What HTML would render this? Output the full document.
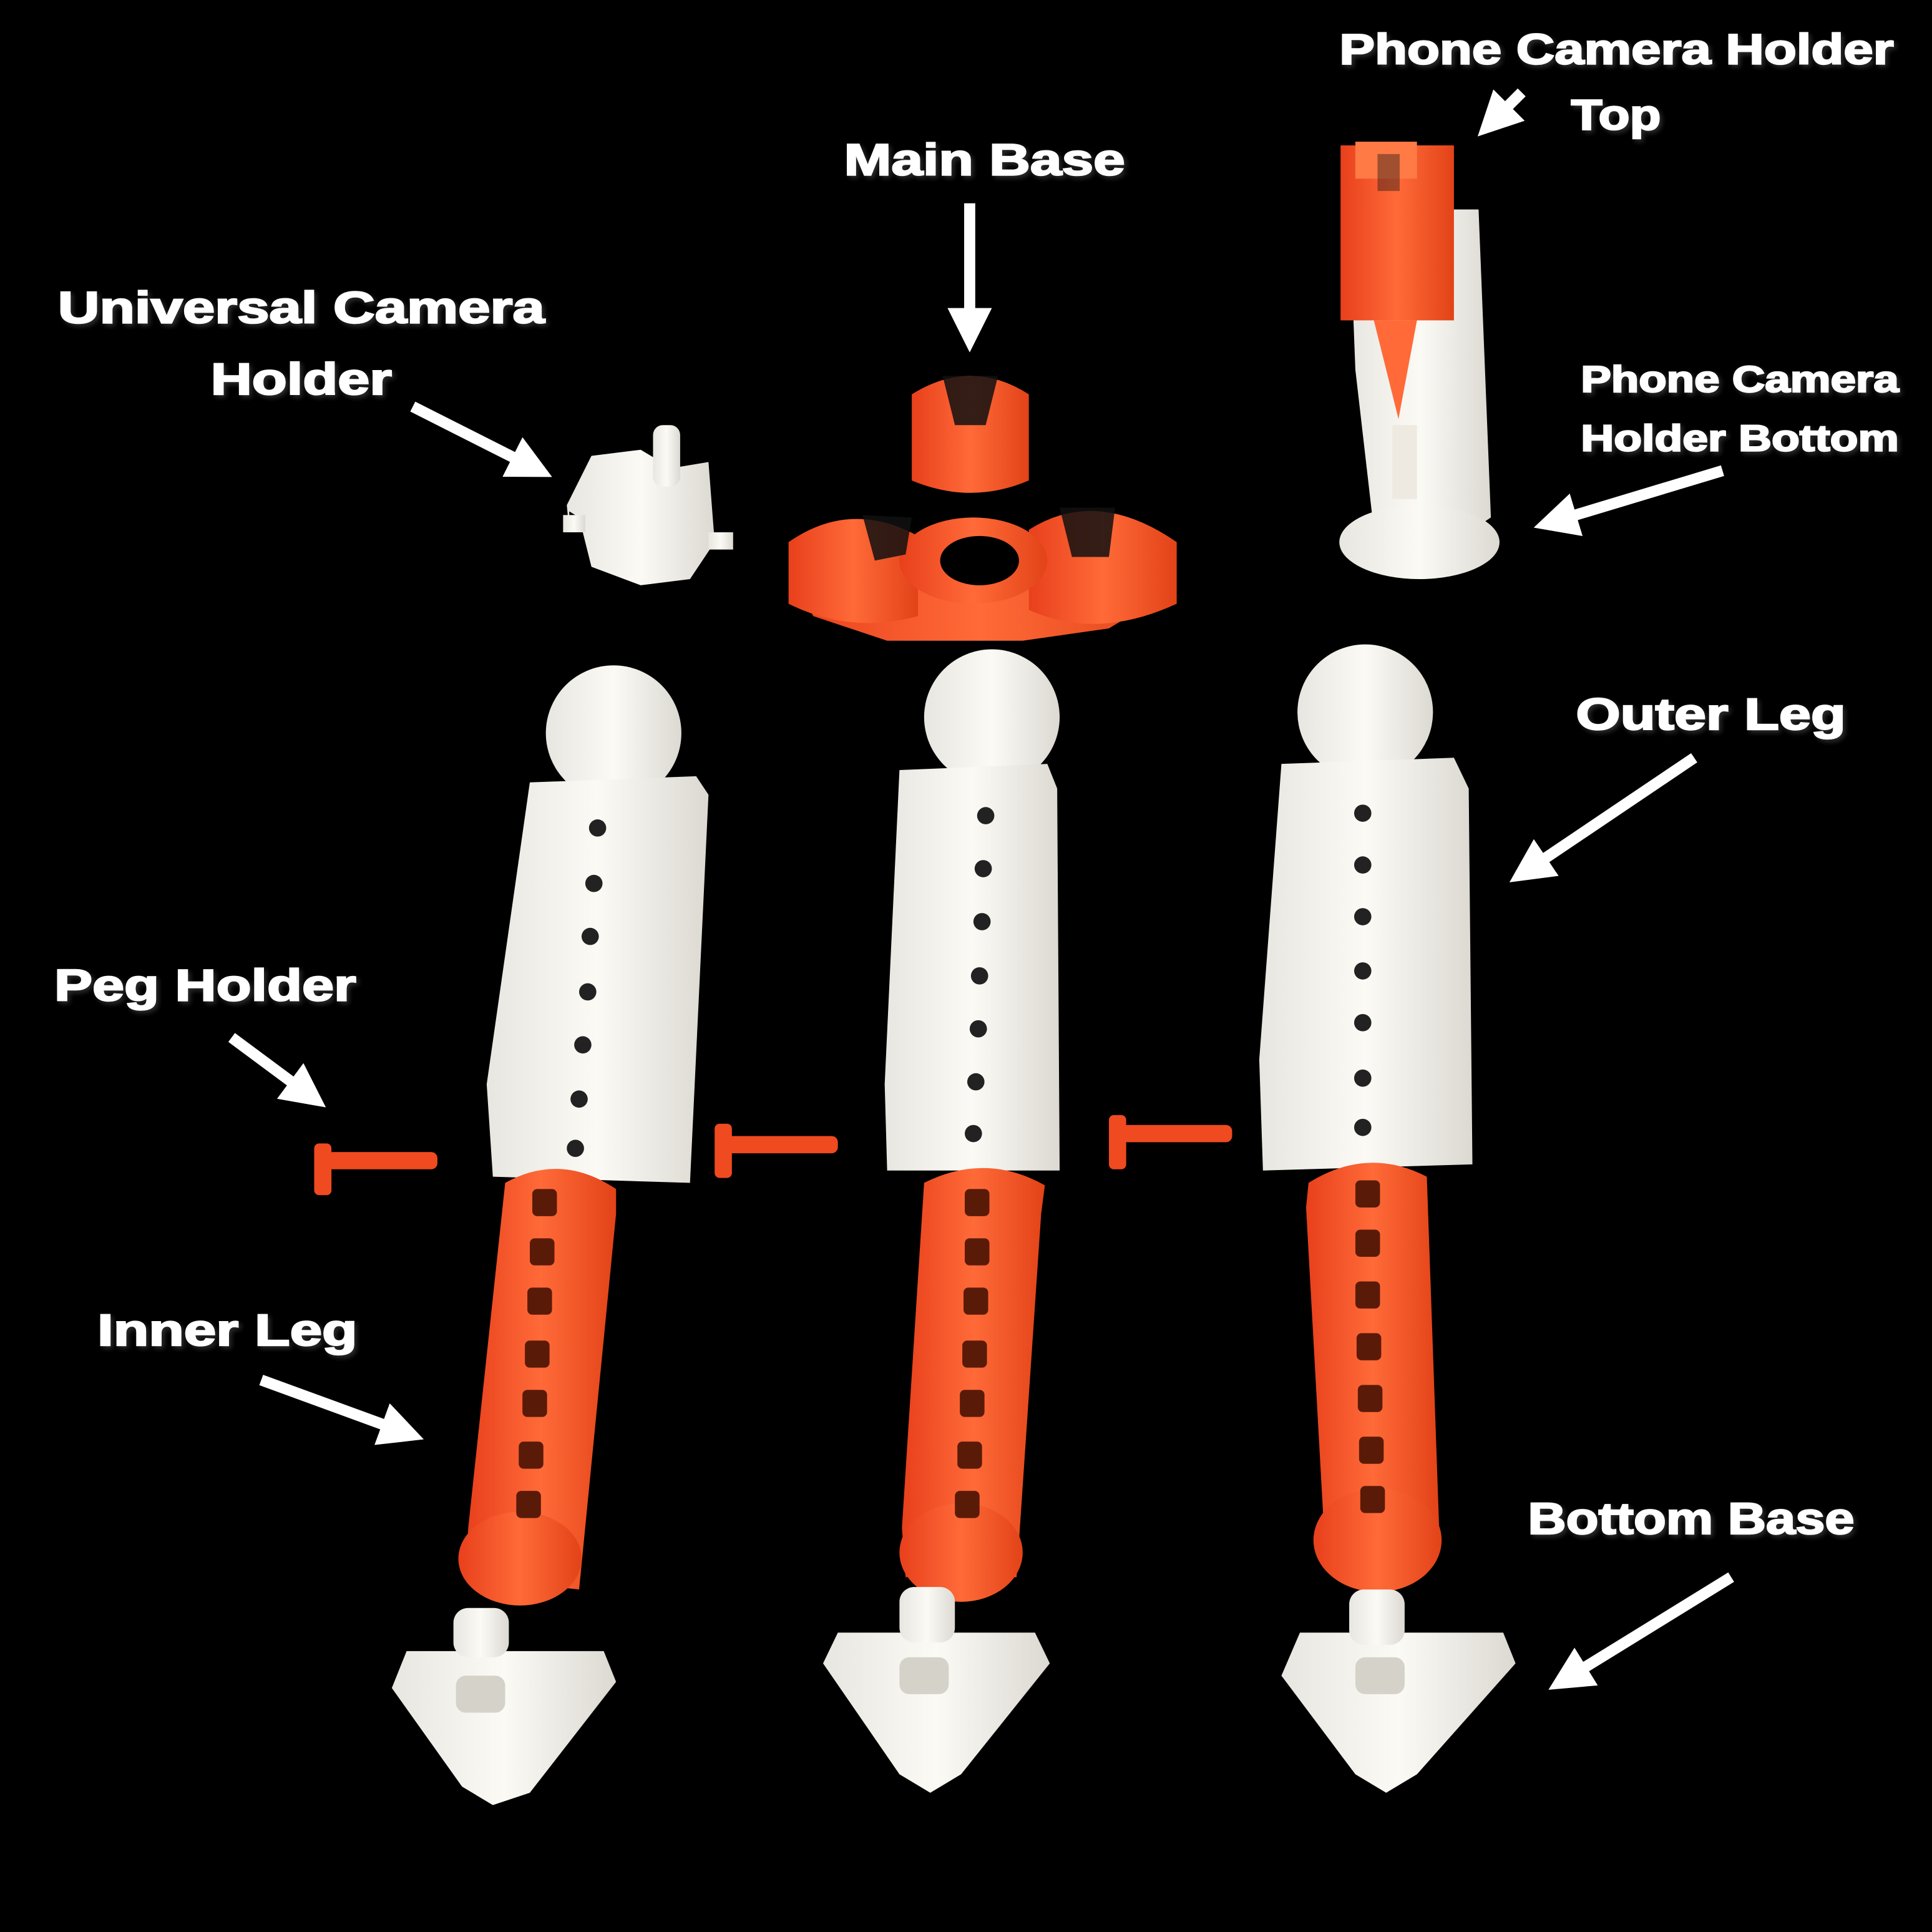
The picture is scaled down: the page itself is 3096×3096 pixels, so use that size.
<!DOCTYPE html>
<html><head><meta charset="utf-8"><style>
html,body{margin:0;padding:0;background:#000;}
svg{display:block}
text{font-family:"Liberation Sans",sans-serif;font-weight:bold;fill:#fff;stroke:#fff;stroke-width:1.2;}
</style></head><body>
<svg width="3096" height="3096" viewBox="0 0 1568 1568" xmlns="http://www.w3.org/2000/svg">
<defs>
<filter id="sh" x="-10%" y="-30%" width="130%" height="160%"><feDropShadow dx="2" dy="2" stdDeviation="2" flood-color="#333" flood-opacity="0.9"/></filter>
<marker id="ah" viewBox="0 0 10 10" refX="5" refY="5" markerWidth="4" markerHeight="4" orient="auto"><path d="M0,0 L10,5 L0,10 z" fill="#fff"/></marker>
<linearGradient id="wg" x1="0" x2="1"><stop offset="0" stop-color="#e8e6e0"/><stop offset="0.5" stop-color="#fbfaf5"/><stop offset="1" stop-color="#dcd9d2"/></linearGradient>
<linearGradient id="og" x1="0" x2="1"><stop offset="0" stop-color="#e8401c"/><stop offset="0.5" stop-color="#ff6a38"/><stop offset="1" stop-color="#e24318"/></linearGradient>
</defs>
<rect width="1568" height="1568" fill="#000"/>

<!-- Main base -->
<g fill="url(#og)">
<path d="M700,440 L930,440 L950,480 L900,510 L830,520 L720,520 L660,500 L640,460 Z"/>
<path d="M740,320 Q788,290 835,320 L835,390 Q788,410 740,390 Z"/>
<path d="M640,440 Q690,405 745,435 L745,500 Q690,515 640,490 Z"/>
<path d="M835,430 Q890,395 955,440 L955,490 Q890,520 835,495 Z"/>
<ellipse cx="790" cy="455" rx="60" ry="35"/>
</g>
<g fill="#111" opacity="0.85">
<path d="M765,305 L775,345 L800,345 L810,305 Z"/>
<path d="M700,418 L710,455 L735,450 L740,420 Z"/>
<path d="M860,412 L870,452 L900,452 L905,412 Z"/>
</g>
<ellipse cx="795" cy="455" rx="32" ry="20" fill="#000"/>

<!-- Universal camera holder -->
<g fill="url(#wg)">
<path d="M480,370 L520,365 L545,380 L575,375 L580,440 L560,470 L520,475 L480,460 L470,420 L462,415 L462,430 L460,410 Z"/>
<rect x="530" y="345" width="22" height="50" rx="8"/>
<rect x="575" y="432" width="20" height="14"/>
<rect x="457" y="418" width="18" height="14"/>
</g>

<!-- Phone holder -->
<g fill="url(#wg)">
<path d="M1095,170 L1200,170 L1210,420 L1195,430 L1115,430 L1100,300 Z"/>
<ellipse cx="1152" cy="440" rx="65" ry="30"/>
</g>
<path d="M1115,260 L1135,340 L1150,260 Z" fill="#ff6a38"/>
<rect x="1130" y="345" width="20" height="60" fill="#eeeae2"/>
<rect x="1088" y="118" width="92" height="142" fill="url(#og)"/>
<rect x="1100" y="115" width="50" height="30" fill="#ff7a45"/>
<rect x="1118" y="125" width="18" height="30" fill="#111" opacity="0.4"/>

<!-- Outer legs -->
<g fill="url(#wg)">
<circle cx="498" cy="595" r="55"/>
<path d="M430,635 L565,630 L575,645 L560,960 L400,955 L395,880 Z"/>
<circle cx="805" cy="582" r="55"/>
<path d="M730,625 L850,620 L858,640 L860,950 L720,950 L718,880 Z"/>
<circle cx="1108" cy="578" r="55"/>
<path d="M1040,620 L1180,615 L1192,640 L1195,945 L1025,950 L1022,860 Z"/>
</g>
<g fill="#222">
<circle cx="485" cy="672" r="7"/><circle cx="482" cy="717" r="7"/><circle cx="479" cy="760" r="7"/><circle cx="477" cy="805" r="7"/><circle cx="473" cy="848" r="7"/><circle cx="470" cy="892" r="7"/><circle cx="467" cy="932" r="7"/>
<circle cx="800" cy="662" r="7"/><circle cx="798" cy="705" r="7"/><circle cx="797" cy="748" r="7"/><circle cx="795" cy="792" r="7"/><circle cx="794" cy="835" r="7"/><circle cx="792" cy="878" r="7"/><circle cx="790" cy="920" r="7"/>
<circle cx="1106" cy="660" r="7"/><circle cx="1106" cy="702" r="7"/><circle cx="1106" cy="744" r="7"/><circle cx="1106" cy="788" r="7"/><circle cx="1106" cy="830" r="7"/><circle cx="1106" cy="875" r="7"/><circle cx="1106" cy="915" r="7"/>
</g>

<!-- Pegs -->
<g fill="#f04a20">
<rect x="265" y="935" width="90" height="14" rx="5"/><rect x="255" y="928" width="14" height="42" rx="4"/>
<rect x="590" y="922" width="90" height="14" rx="5"/><rect x="580" y="912" width="14" height="44" rx="4"/>
<rect x="910" y="913" width="90" height="14" rx="5"/><rect x="900" y="905" width="14" height="44" rx="4"/>
</g>

<!-- Inner legs -->
<g fill="url(#og)">
<path d="M410,960 Q455,935 500,965 L500,985 L470,1290 L378,1280 L380,1240 Z"/>
<ellipse cx="422" cy="1265" rx="50" ry="38"/>
<path d="M750,960 Q800,935 848,962 L845,985 L825,1280 L735,1280 L732,1240 Z"/>
<ellipse cx="780" cy="1260" rx="50" ry="40"/>
<path d="M1062,960 Q1110,930 1158,955 L1168,1240 L1075,1250 L1060,980 Z"/>
<ellipse cx="1118" cy="1250" rx="52" ry="42"/>
</g>
<g fill="#5a1a08">
<rect x="432" y="965" width="20" height="22" rx="4"/><rect x="430" y="1005" width="20" height="22" rx="4"/><rect x="428" y="1045" width="20" height="22" rx="4"/><rect x="426" y="1088" width="20" height="22" rx="4"/><rect x="424" y="1128" width="20" height="22" rx="4"/><rect x="421" y="1170" width="20" height="22" rx="4"/><rect x="419" y="1210" width="20" height="22" rx="4"/>
<rect x="783" y="965" width="20" height="22" rx="4"/><rect x="783" y="1005" width="20" height="22" rx="4"/><rect x="782" y="1045" width="20" height="22" rx="4"/><rect x="781" y="1088" width="20" height="22" rx="4"/><rect x="779" y="1128" width="20" height="22" rx="4"/><rect x="777" y="1170" width="20" height="22" rx="4"/><rect x="775" y="1210" width="20" height="22" rx="4"/>
<rect x="1100" y="958" width="20" height="22" rx="4"/><rect x="1100" y="998" width="20" height="22" rx="4"/><rect x="1100" y="1040" width="20" height="22" rx="4"/><rect x="1101" y="1082" width="20" height="22" rx="4"/><rect x="1102" y="1124" width="20" height="22" rx="4"/><rect x="1103" y="1166" width="20" height="22" rx="4"/><rect x="1104" y="1206" width="20" height="22" rx="4"/>
</g>

<!-- Bottom bases -->
<g fill="url(#wg)">
<path d="M330,1340 L490,1340 L500,1365 L430,1455 L400,1465 L375,1450 L318,1370 Z"/>
<rect x="368" y="1305" width="45" height="40" rx="12"/>
<path d="M680,1325 L840,1325 L852,1350 L780,1440 L755,1455 L730,1440 L668,1350 Z"/>
<rect x="730" y="1288" width="45" height="45" rx="12"/>
<path d="M1055,1325 L1220,1325 L1230,1350 L1150,1440 L1125,1455 L1100,1440 L1040,1360 Z"/>
<rect x="1095" y="1290" width="45" height="45" rx="12"/>
</g>
<g fill="#d5d2ca">
<rect x="370" y="1360" width="40" height="30" rx="8"/>
<rect x="730" y="1345" width="40" height="30" rx="8"/>
<rect x="1100" y="1345" width="40" height="30" rx="8"/>
</g>

<!-- Arrows -->
<g stroke="#fff" stroke-width="9" marker-end="url(#ah)" fill="none">
<line x1="787" y1="165" x2="787" y2="268"/>
<line x1="335" y1="330" x2="432" y2="379"/>
<line x1="1235" y1="75" x2="1212" y2="98"/>
<line x1="1398" y1="382" x2="1262" y2="423"/>
<line x1="1375" y1="615" x2="1240" y2="706"/>
<line x1="188" y1="842" x2="250" y2="888"/>
<line x1="212" y1="1120" x2="327" y2="1162"/>
<line x1="1405" y1="1280" x2="1272" y2="1362"/>
</g>

<!-- Labels -->
<g filter="url(#sh)">
<text x="1087" y="52" font-size="35" textLength="450" lengthAdjust="spacingAndGlyphs">Phone Camera Holder</text>
<text x="1275" y="105" font-size="35" textLength="73" lengthAdjust="spacingAndGlyphs">Top</text>
<text x="685" y="142" font-size="36" textLength="228" lengthAdjust="spacingAndGlyphs">Main Base</text>
<text x="47" y="262" font-size="36" textLength="395" lengthAdjust="spacingAndGlyphs">Universal Camera</text>
<text x="171" y="320" font-size="36" textLength="147" lengthAdjust="spacingAndGlyphs">Holder</text>
<text x="1283" y="318" font-size="30" textLength="258" lengthAdjust="spacingAndGlyphs">Phone Camera</text>
<text x="1283" y="366" font-size="30" textLength="258" lengthAdjust="spacingAndGlyphs">Holder Bottom</text>
<text x="1279" y="592" font-size="36" textLength="219" lengthAdjust="spacingAndGlyphs">Outer Leg</text>
<text x="44" y="812" font-size="36" textLength="245" lengthAdjust="spacingAndGlyphs">Peg Holder</text>
<text x="79" y="1092" font-size="36" textLength="211" lengthAdjust="spacingAndGlyphs">Inner Leg</text>
<text x="1240" y="1245" font-size="36" textLength="265" lengthAdjust="spacingAndGlyphs">Bottom Base</text>
</g>
</svg>
</body></html>
